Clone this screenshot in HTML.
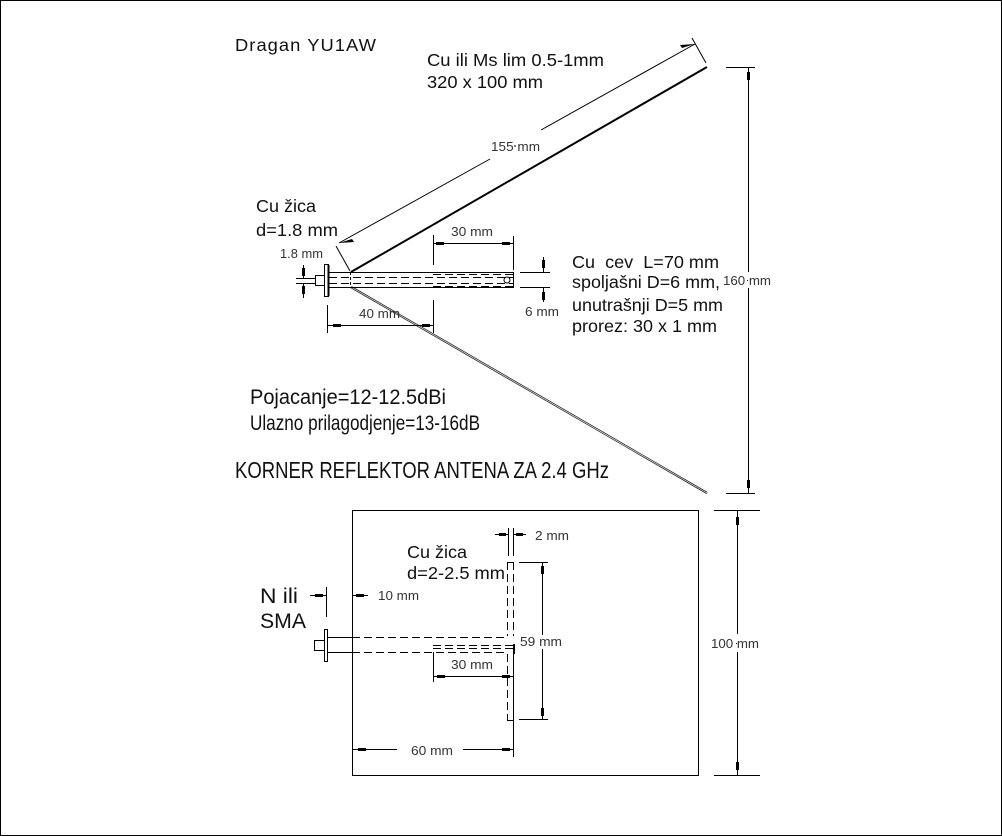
<!DOCTYPE html>
<html><head><meta charset="utf-8"><style>
html,body{margin:0;padding:0;background:#fff}
svg{display:block}
text{font-family:"Liberation Sans",sans-serif;fill:#111}
.s{font-size:12.5px;fill:#333}
.m{font-size:17.5px}
line,rect,circle{stroke:#000;stroke-width:1;fill:none}
.d{stroke-dasharray:8 4}
.a{fill:#000;stroke:none}
</style></head><body>
<svg width="1002" height="836" viewBox="0 0 1002 836" xmlns="http://www.w3.org/2000/svg" shape-rendering="crispEdges">
<rect x="0.5" y="0.5" width="1001" height="835"/>

<g shape-rendering="auto">
<!-- reflector -->
<line x1="351" y1="272" x2="707" y2="67" style="stroke-width:2"/>
<line x1="351" y1="287" x2="707" y2="493" style="stroke:#222;stroke-width:2.2"/>
<line x1="351" y1="287" x2="707" y2="493" style="stroke:#eee;stroke-width:.7"/>
<!-- 155 dim -->
<line x1="336" y1="246" x2="350" y2="271"/>
<line x1="692" y1="38" x2="706" y2="63"/>
<line x1="339" y1="243" x2="490" y2="159"/>
<line x1="541" y1="130" x2="695" y2="44"/>
<path class="a" d="M339 243l13-4 2 3z M695 44l-13 4-2-3z"/>
<circle cx="515" cy="146" r=".5" style="stroke:#555"/>
</g>

<!-- 160 dim -->
<line x1="726" y1="67.5" x2="755" y2="67.5"/>
<line x1="726" y1="493.5" x2="755" y2="493.5"/>
<line x1="748.5" y1="67" x2="748.5" y2="272"/>
<line x1="748.5" y1="288" x2="748.5" y2="493"/>
<rect class="a" x="747" y="72" width="3" height="8"/>
<rect class="a" x="747" y="480" width="3" height="8"/>
<rect class="a" x="747" y="280" width="1" height="1"/>

<!-- upper tube -->
<rect x="324.5" y="264.5" width="4" height="32"/>
<rect x="315.5" y="275.5" width="9" height="10"/>
<line x1="329" y1="272.5" x2="513" y2="272.5"/>
<line x1="329" y1="287.5" x2="513" y2="287.5"/>
<line x1="513.5" y1="272" x2="513.5" y2="288"/>
<line x1="328.5" y1="265" x2="328.5" y2="296" style="stroke-width:2"/>
<line class="d" x1="329" y1="277.5" x2="513" y2="277.5"/>
<line class="d" x1="329" y1="283.5" x2="513" y2="283.5"/>
<line class="d" x1="433" y1="274.5" x2="513" y2="274.5"/>
<line class="d" x1="433" y1="286.5" x2="513" y2="286.5"/>
<line x1="350.5" y1="272" x2="350.5" y2="288" style="stroke-dasharray:3 2"/>
<circle cx="507" cy="280" r="3" shape-rendering="auto"/>
<!-- 1.8 -->
<line x1="296" y1="278.5" x2="316" y2="278.5"/>
<line x1="296" y1="283.5" x2="316" y2="283.5"/>
<line x1="303.5" y1="265" x2="303.5" y2="278"/>
<line x1="303.5" y1="284" x2="303.5" y2="298"/>
<rect class="a" x="302" y="268" width="3" height="8"/>
<rect class="a" x="302" y="286" width="3" height="8"/>
<!-- 30 upper -->
<line x1="433.5" y1="235" x2="433.5" y2="265"/>
<line x1="513.5" y1="236" x2="513.5" y2="270"/>
<line x1="433" y1="243.5" x2="513" y2="243.5"/>
<rect class="a" x="436" y="242" width="8" height="3"/>
<rect class="a" x="502" y="242" width="8" height="3"/>
<!-- 6 -->
<line x1="520" y1="272.5" x2="550" y2="272.5"/>
<line x1="520" y1="287.5" x2="550" y2="287.5"/>
<line x1="543.5" y1="257" x2="543.5" y2="272"/>
<line x1="543.5" y1="288" x2="543.5" y2="302"/>
<rect class="a" x="542" y="260" width="3" height="8"/>
<rect class="a" x="542" y="292" width="3" height="8"/>
<!-- 40 -->
<line x1="327.5" y1="305" x2="327.5" y2="333"/>
<line x1="433.5" y1="300" x2="433.5" y2="333"/>
<line x1="327" y1="325.5" x2="433" y2="325.5"/>
<rect class="a" x="333" y="324" width="8" height="3"/>
<rect class="a" x="422" y="324" width="8" height="3"/>

<!-- lower plate -->
<rect x="352.5" y="510.5" width="346" height="265"/>
<!-- 100 dim -->
<line x1="714" y1="510.5" x2="760" y2="510.5"/>
<line x1="714" y1="775.5" x2="760" y2="775.5"/>
<line x1="737.5" y1="510" x2="737.5" y2="634"/>
<line x1="737.5" y1="652" x2="737.5" y2="775"/>
<rect class="a" x="736" y="517" width="3" height="8"/>
<rect class="a" x="736" y="762" width="3" height="8"/>
<rect class="a" x="736" y="643" width="1" height="1"/>

<!-- lower tube -->
<rect x="324.5" y="629.5" width="3" height="32"/>
<rect x="314.5" y="640.5" width="10" height="10"/>
<line x1="328" y1="637.5" x2="352" y2="637.5"/>
<line x1="328" y1="652.5" x2="352" y2="652.5"/>
<line class="d" x1="352" y1="637.5" x2="508" y2="637.5"/>
<line class="d" x1="352" y1="652.5" x2="508" y2="652.5"/>
<line class="d" x1="433" y1="645.5" x2="513" y2="645.5"/>
<line class="d" x1="433" y1="648.5" x2="513" y2="648.5"/>
<rect x="513.5" y="644.5" width="1" height="9"/>
<!-- dipole -->
<line class="d" x1="507.5" y1="562" x2="507.5" y2="636"/>
<line class="d" x1="513.5" y1="562" x2="513.5" y2="636"/>
<line class="d" x1="507.5" y1="654" x2="507.5" y2="720"/>
<line x1="507" y1="562.5" x2="514" y2="562.5"/>
<line x1="507" y1="720.5" x2="514" y2="720.5"/>
<line x1="513.5" y1="654" x2="513.5" y2="757"/>
<!-- 2 mm -->
<line x1="508.5" y1="528" x2="508.5" y2="556"/>
<line x1="513.5" y1="528" x2="513.5" y2="556"/>
<line x1="495" y1="534.5" x2="508" y2="534.5"/>
<line x1="514" y1="534.5" x2="526" y2="534.5"/>
<rect class="a" x="499" y="533" width="7" height="3"/>
<rect class="a" x="516" y="533" width="7" height="3"/>
<!-- 59 -->
<line x1="519" y1="562.5" x2="548" y2="562.5"/>
<line x1="519" y1="719.5" x2="548" y2="719.5"/>
<line x1="542.5" y1="562" x2="542.5" y2="635"/>
<line x1="542.5" y1="649" x2="542.5" y2="719"/>
<rect class="a" x="541" y="566" width="3" height="8"/>
<rect class="a" x="541" y="708" width="3" height="8"/>
<!-- 30 lower -->
<line x1="433.5" y1="652" x2="433.5" y2="682"/>
<line x1="433" y1="676.5" x2="513" y2="676.5"/>
<rect class="a" x="437" y="675" width="8" height="3"/>
<rect class="a" x="502" y="675" width="8" height="3"/>
<!-- 60 -->
<line x1="352" y1="749.5" x2="397" y2="749.5"/>
<line x1="463" y1="749.5" x2="513" y2="749.5"/>
<rect class="a" x="358" y="748" width="8" height="3"/>
<rect class="a" x="502" y="748" width="8" height="3"/>
<!-- 10 -->
<line x1="326.5" y1="587" x2="326.5" y2="617"/>
<line x1="310" y1="595.5" x2="326" y2="595.5"/>
<line x1="352" y1="595.5" x2="368" y2="595.5"/>
<rect class="a" x="315" y="594" width="8" height="3"/>
<rect class="a" x="356" y="594" width="8" height="3"/>

<!-- small labels -->
<g shape-rendering="auto">
<text class="s" x="491" y="151" textLength="49" lengthAdjust="spacingAndGlyphs">155 mm</text>
<text class="s" x="723" y="285" textLength="48" lengthAdjust="spacingAndGlyphs">160 mm</text>
<text class="s" x="711" y="648" textLength="48" lengthAdjust="spacingAndGlyphs">100 mm</text>
<text class="s" x="280" y="258" textLength="43" lengthAdjust="spacingAndGlyphs">1.8 mm</text>
<text class="s" x="451" y="236" textLength="42" lengthAdjust="spacingAndGlyphs">30 mm</text>
<text class="s" x="525" y="316" textLength="34" lengthAdjust="spacingAndGlyphs">6 mm</text>
<text class="s" x="359" y="318" textLength="41" lengthAdjust="spacingAndGlyphs">40 mm</text>
<text class="s" x="535" y="540" textLength="34" lengthAdjust="spacingAndGlyphs">2 mm</text>
<text class="s" x="378" y="600" textLength="41" lengthAdjust="spacingAndGlyphs">10 mm</text>
<text class="s" x="520" y="646" textLength="42" lengthAdjust="spacingAndGlyphs">59 mm</text>
<text class="s" x="451" y="669" textLength="42" lengthAdjust="spacingAndGlyphs">30 mm</text>
<text class="s" x="411" y="755" textLength="42" lengthAdjust="spacingAndGlyphs">60 mm</text>

<!-- main labels -->
<text class="m" x="235" y="51" textLength="142" lengthAdjust="spacingAndGlyphs" style="letter-spacing:1px">Dragan YU1AW</text>
<text class="m" x="427" y="66" textLength="177" lengthAdjust="spacingAndGlyphs">Cu ili Ms lim 0.5-1mm</text>
<text class="m" x="427" y="88" textLength="116" lengthAdjust="spacingAndGlyphs">320 x 100 mm</text>
<text class="m" x="256" y="212" textLength="60" lengthAdjust="spacingAndGlyphs">Cu žica</text>
<text class="m" x="256" y="236" textLength="82" lengthAdjust="spacingAndGlyphs">d=1.8 mm</text>
<text class="m" x="572" y="268" textLength="147" lengthAdjust="spacingAndGlyphs" xml:space="preserve">Cu  cev  L=70 mm</text>
<text class="m" x="572" y="288" textLength="148" lengthAdjust="spacingAndGlyphs">spoljašni D=6 mm,</text>
<text class="m" x="572" y="311" textLength="151" lengthAdjust="spacingAndGlyphs">unutrašnji D=5 mm</text>
<text class="m" x="572" y="332" textLength="145" lengthAdjust="spacingAndGlyphs">prorez: 30 x 1 mm</text>
<text x="250" y="404" style="font-size:21px" textLength="196" lengthAdjust="spacingAndGlyphs">Pojacanje=12-12.5dBi</text>
<text x="250" y="430" style="font-size:21px" textLength="230" lengthAdjust="spacingAndGlyphs">Ulazno prilagodjenje=13-16dB</text>
<text x="235" y="478" style="font-size:23px" textLength="374" lengthAdjust="spacingAndGlyphs">KORNER REFLEKTOR ANTENA ZA 2.4 GHz</text>
<text class="m" x="407" y="558" textLength="60" lengthAdjust="spacingAndGlyphs">Cu žica</text>
<text class="m" x="407" y="579" textLength="98" lengthAdjust="spacingAndGlyphs">d=2-2.5 mm</text>
<text x="260" y="603" style="font-size:21px" textLength="38" lengthAdjust="spacingAndGlyphs">N ili</text>
<text x="260" y="628" style="font-size:21px" textLength="46" lengthAdjust="spacingAndGlyphs">SMA</text>
</g>
</svg>
</body></html>
